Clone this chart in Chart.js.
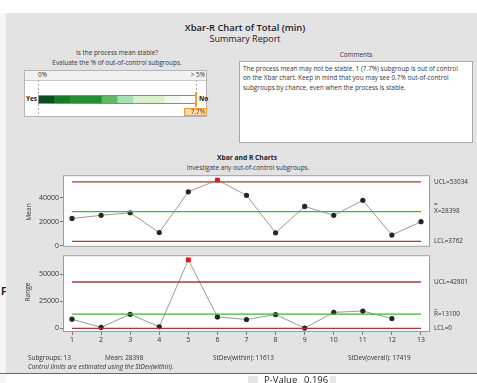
<!DOCTYPE html>
<html>
<head>
<meta charset="utf-8">
<script src="https://cdn.jsdelivr.net/npm/chart.js@4.4.1/dist/chart.umd.min.js"></script>
<style>
  body { margin: 0; width: 477px; height: 383px; overflow: hidden; background: #fff; position: relative;
         font-family: 'Open Sans', 'Noto Sans', sans-serif; color: #333; font-size: 6.4px; }
  .abs { position: absolute; white-space: nowrap; line-height: 10px; }
  .c { text-align: center; }
  .rot { position: absolute; width: 40px; text-align: center; line-height: 10px; transform: rotate(-90deg); font-size: 6.6px; }
  #panel { position: absolute; left: 6px; top: 13px; width: 471px; height: 360px; background: #e3e3e3; }
  #leftStrip { position: absolute; left: 0; top: 13px; width: 6px; height: 370px; background: #f6f6f6; }
  #bottomLine { position: absolute; left: 0; top: 373px; width: 477px; height: 1px; background: #666; }
  #gaugeBox { position: absolute; left: 24px; top: 70px; width: 181px; height: 45px; background: #fff; border: 1px solid #b4b4b4; }
  #gaugeHead { position: absolute; left: 0; top: 0; width: 181px; height: 9px; background: #f1f1f1; border-bottom: 1px solid #c8c8c8; }
  #commentBox { position: absolute; left: 239px; top: 61px; width: 232px; height: 80px; background: #fff; border: 1px solid #a8a8a8; }
  canvas { position: absolute; }
</style>
</head>
<body>
<div id="leftStrip"></div>
<div class="abs" style="left:1px;top:286px;font-size:10px;font-weight:bold;color:#222">F</div>
<div id="panel"></div>

<div class="abs c" style="left:145px;width:200px;top:23px;font-size:9.4px;font-weight:600;color:#222">Xbar-R Chart of Total (min)</div>
<div class="abs c" style="left:145px;width:200px;top:34px;font-size:9px;color:#222">Summary Report</div>

<div class="abs c" style="left:17px;width:200px;top:48px">Is the process mean stable?</div>
<div class="abs c" style="left:17px;width:200px;top:58px">Evaluate the % of out-of-control subgroups.</div>
<div id="gaugeBox"><div id="gaugeHead"></div></div>
<div class="abs" style="left:38px;top:70px">0%</div>
<div class="abs" style="left:165px;width:40px;top:70px;text-align:right">&gt; 5%</div>
<div class="abs" style="left:26px;top:94px;font-weight:bold;color:#111">Yes</div>
<div class="abs" style="left:199px;top:94px;font-weight:bold;color:#111">No</div>
<canvas id="gauge" width="183" height="47" style="left:24px;top:70px"></canvas>

<div class="abs c" style="left:256px;width:200px;top:50px">Comments</div>
<div id="commentBox"></div>
<div class="abs" style="left:243px;top:64px;line-height:9.3px">The process mean may not be stable. 1 (7.7%) subgroup is out of control<br>on the Xbar chart. Keep in mind that you may see 0.7% out-of-control<br>subgroups by chance, even when the process is stable.</div>

<div class="abs c" style="left:147px;width:200px;top:153px;font-weight:bold;font-size:6.7px;color:#222">Xbar and R Charts</div>
<div class="abs c" style="left:148px;width:200px;top:163px">Investigate any out-of-control subgroups.</div>

<canvas id="meanChart" width="477" height="82" style="left:0;top:170px"></canvas>
<canvas id="rangeChart" width="477" height="96" style="left:0;top:250px"></canvas>
<div class="rot" style="left:9px;top:207px">Mean</div>
<div class="rot" style="left:8px;top:287px">Range</div>

<div class="abs" style="left:28px;top:353px">Subgroups: 13</div>
<div class="abs" style="left:105px;top:353px">Mean: 28398</div>
<div class="abs" style="left:213px;top:353px">StDev(within): 11613</div>
<div class="abs" style="left:348px;top:353px">StDev(overall): 17419</div>
<div class="abs" style="left:28px;top:362px;font-style:italic">Control limits are estimated using the StDev(within).</div>

<div id="bottomLine"></div>
<div class="abs" style="left:264px;top:375px;font-size:9.5px;color:#222">P-Value</div>
<div class="abs" style="left:304px;top:375px;font-size:9.5px;color:#222">0.196</div>
<div style="position:absolute;left:248px;top:376px;width:10px;height:7px;background:#e6e6e6"></div>
<div style="position:absolute;left:330px;top:376px;width:6px;height:7px;background:#e6e6e6"></div>

<script>
// subgroup statistics
const subgroups = [1, 2, 3, 4, 5, 6, 7, 8, 9, 10, 11, 12, 13];
const subgroupMeans = [22660, 25270, 27400, 11050, 44770, 54480, 41850, 10800, 32600, 25270, 37660, 8920, 19970];
const subgroupRanges = [8450, 900, 13000, 1450, 63270, 10550, 8180, 12730, 300, 14800, 16000, 9090];

// control limits: UCL, centre line, LCL
const meanLimits = [53034, 28398, 3762];
const rangeLimits = [42801, 13100, 0];
const meanLimitNames = ['UCL', 'X', 'LCL'];
const rangeLimitNames = ['UCL', 'R', 'LCL'];

const meanTicks = [0, 20000, 40000];
const rangeTicks = [0, 25000, 50000];

// stability gauge: band widths in % out of control, and the observed %
const gaugeBands = [0.5, 0.5, 1, 0.5, 0.5, 1, 0.5, 0.5];
const gaugeColors = ['#0d4f1c', '#157a26', '#21902f', '#5fb862', '#a6dfb4', '#d9f1c8', '#eef8ec', '#ffffff'];
const pctOutOfControl = 7.7;
const gaugeMax = 5;

const FONT = "'Open Sans', 'Noto Sans', sans-serif";
Chart.defaults.font.family = FONT;
Chart.defaults.font.size = 7;
Chart.defaults.color = '#333';

const RED = '#a83a3a';
const GREEN = '#3fb43f';

// white plot area with a grey frame
const plotFrame = {
  id: 'plotFrame',
  beforeDraw(chart) {
    const { ctx, chartArea: a } = chart;
    ctx.save();
    ctx.fillStyle = '#fff';
    ctx.fillRect(a.left, a.top, a.right - a.left, a.bottom - a.top);
    ctx.restore();
  },
  afterDraw(chart) {
    const { ctx, chartArea: a } = chart;
    ctx.save();
    ctx.strokeStyle = '#9c9c9c';
    ctx.lineWidth = 1;
    ctx.strokeRect(a.left + 0.5, a.top + 0.5, a.right - a.left - 1, a.bottom - a.top - 1);
    ctx.restore();
  }
};

// UCL / centre / LCL text to the right of the plot
const limitLabels = {
  id: 'limitLabels',
  afterDraw(chart, args, opts) {
    const { ctx, chartArea, scales } = chart;
    const x = chartArea.right + 4;
    ctx.save();
    ctx.font = '6.4px ' + FONT;
    ctx.fillStyle = '#333';
    ctx.textBaseline = 'middle';
    opts.values.forEach((v, i) => {
      const y = scales.y.getPixelForValue(v);
      ctx.fillText(opts.names[i] + '=' + v, x, y);
      if (i === 1) ctx.fillText(opts.bar, x, y - 7);
    });
    ctx.restore();
  }
};

function controlChart(id, values, limits, names, bar, yTicks, yMin, yMax, showX) {
  const n = subgroups.length;
  const line = v => [{ x: subgroups[0], y: v }, { x: subgroups[n - 1], y: v }];
  const pts = values.map((v, i) => ({ x: subgroups[i], y: v }));
  const out = values.map(v => v > limits[0] || v < limits[2]);
  const canvas = document.getElementById(id);

  return new Chart(canvas, {
    type: 'line',
    data: {
      datasets: [
        { data: line(limits[0]), borderColor: RED, borderWidth: 1.3, pointRadius: 0 },
        { data: line(limits[1]), borderColor: GREEN, borderWidth: 1.3, pointRadius: 0 },
        { data: line(limits[2]), borderColor: RED, borderWidth: 1.3, pointRadius: 0 },
        {
          data: pts,
          borderColor: '#9a9a9a',
          borderWidth: 1,
          pointStyle: out.map(o => o ? 'rect' : 'circle'),
          pointRadius: out.map(o => o ? 3.4 : 2.6),
          pointBackgroundColor: out.map(o => o ? '#e01818' : '#262626'),
          pointBorderWidth: 0
        }
      ]
    },
    options: {
      responsive: false,
      animation: false,
      events: [],
      layout: { padding: { left: 20, right: 47, top: 4, bottom: showX ? 0 : 3 } },
      scales: {
        x: {
          type: 'linear',
          min: 0.69,
          max: 13.31,
          display: showX,
          afterBuildTicks: s => { s.ticks = subgroups.map(v => ({ value: v })); },
          afterFit: s => { s.height = showX ? 14 : 0; },
          grid: { display: true, drawOnChartArea: false, drawTicks: true, tickLength: 3, color: '#777' },
          border: { display: false },
          ticks: { padding: 1, maxRotation: 0, callback: v => String(v) }
        },
        y: {
          min: yMin,
          max: yMax,
          afterBuildTicks: s => { s.ticks = yTicks.map(v => ({ value: v })); },
          afterFit: s => { s.width = 43; },
          grid: { display: true, drawOnChartArea: false, drawTicks: true, tickLength: 3, color: '#777' },
          border: { display: false },
          ticks: { padding: 1, callback: v => String(v) }
        }
      },
      plugins: {
        legend: { display: false },
        tooltip: { enabled: false },
        limitLabels: { values: limits, names: names, bar: bar }
      }
    },
    plugins: [plotFrame, limitLabels]
  });
}

controlChart('meanChart', subgroupMeans, meanLimits, meanLimitNames, '=', meanTicks, -800, 58500, false);
controlChart('rangeChart', subgroupRanges, rangeLimits, rangeLimitNames, '_', rangeTicks, -3360, 67550, true);

// dashed bounds, outline and the marker for the observed %
const gaugeMarks = {
  id: 'gaugeMarks',
  beforeDatasetsDraw(chart) {
    const { ctx, scales: { x } } = chart;
    ctx.save();
    ctx.strokeStyle = '#b0b0b0';
    ctx.setLineDash([2, 2]);
    [0, gaugeMax].forEach(v => {
      const px = Math.round(x.getPixelForValue(v)) + 0.5;
      ctx.beginPath();
      ctx.moveTo(px, 10);
      ctx.lineTo(px, 47);
      ctx.stroke();
    });
    ctx.restore();
  },
  afterDraw(chart) {
    const { ctx, chartArea: a, scales: { x } } = chart;
    ctx.save();
    ctx.strokeStyle = '#8a8a8a';
    ctx.lineWidth = 1;
    ctx.strokeRect(a.left + 0.5, a.top + 0.5, a.right - a.left - 1, a.bottom - a.top - 1);
    const px = x.getPixelForValue(Math.min(pctOutOfControl, gaugeMax));
    ctx.fillStyle = '#f0a030';
    ctx.fillRect(px - 1, 22, 2, 15);
    // value tag under the marker
    ctx.fillStyle = '#fbd8a6';
    ctx.strokeStyle = '#f0a030';
    ctx.fillRect(160, 38, 23, 8);
    ctx.strokeRect(160.5, 38.5, 22, 7);
    ctx.fillStyle = '#444';
    ctx.font = '6.4px ' + FONT;
    ctx.textAlign = 'right';
    ctx.textBaseline = 'middle';
    ctx.fillText(pctOutOfControl + '%', 181, 42.5);
    ctx.restore();
  }
};

new Chart(document.getElementById('gauge'), {
  type: 'bar',
  data: {
    labels: [''],
    datasets: gaugeBands.map((w, i) => ({ data: [w], backgroundColor: gaugeColors[i], borderWidth: 0 }))
  },
  options: {
    indexAxis: 'y',
    responsive: false,
    animation: false,
    events: [],
    layout: { padding: { left: 14, right: 11, top: 25, bottom: 13 } },
    datasets: { bar: { barPercentage: 1, categoryPercentage: 1 } },
    scales: {
      x: { stacked: true, display: false, min: 0, max: gaugeMax },
      y: { stacked: true, display: false }
    },
    plugins: { legend: { display: false }, tooltip: { enabled: false } }
  },
  plugins: [gaugeMarks]
});
</script>
</body>
</html>
